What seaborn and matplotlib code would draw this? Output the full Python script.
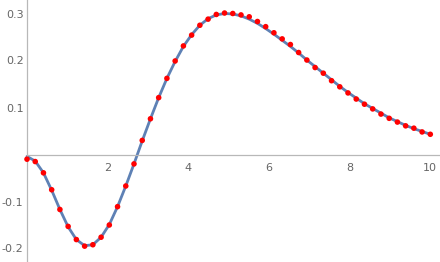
import numpy as np
import pandas as pd
import matplotlib
matplotlib.use("Agg")
import matplotlib.pyplot as plt
import seaborn as sns
from matplotlib.ticker import MultipleLocator, FixedLocator

# sample positions (50 samples across 0..10)
x_vals = [0.000, 0.204, 0.408, 0.612, 0.816, 1.020, 1.224, 1.429, 1.633, 1.837,
          2.041, 2.245, 2.449, 2.653, 2.857, 3.061, 3.265, 3.469, 3.673, 3.878,
          4.082, 4.286, 4.490, 4.694, 4.898, 5.102, 5.306, 5.510, 5.714, 5.918,
          6.122, 6.327, 6.531, 6.735, 6.939, 7.143, 7.347, 7.551, 7.755, 7.959,
          8.163, 8.367, 8.571, 8.776, 8.980, 9.184, 9.388, 9.592, 9.796, 10.000]

# red sample points
point_vals = [-0.010, -0.015, -0.039, -0.075, -0.117, -0.153, -0.181, -0.195, -0.192, -0.176,
              -0.150, -0.111, -0.067, -0.020, 0.030, 0.076, 0.121, 0.162, 0.199, 0.231,
              0.254, 0.275, 0.288, 0.298, 0.301, 0.300, 0.297, 0.293, 0.283, 0.272,
              0.259, 0.246, 0.234, 0.217, 0.201, 0.185, 0.173, 0.157, 0.144, 0.131,
              0.118, 0.107, 0.097, 0.086, 0.077, 0.069, 0.061, 0.056, 0.048, 0.043]

# blue fitted curve
curve_vals = [-0.004, -0.014, -0.039, -0.076, -0.117, -0.154, -0.181, -0.194, -0.192, -0.176,
              -0.149, -0.111, -0.067, -0.020, 0.029, 0.076, 0.121, 0.162, 0.198, 0.230,
              0.255, 0.275, 0.289, 0.297, 0.300, 0.299, 0.295, 0.288, 0.279, 0.268,
              0.256, 0.243, 0.230, 0.216, 0.201, 0.187, 0.173, 0.159, 0.145, 0.132,
              0.120, 0.108, 0.098, 0.088, 0.078, 0.070, 0.062, 0.055, 0.049, 0.043]

x_major = [2, 4, 6, 8, 10]
y_major = [-0.2, -0.1, 0.1, 0.2, 0.3]

df_pts = pd.DataFrame({"x": x_vals, "y": point_vals})
df_fit = pd.DataFrame({"x": x_vals, "y": curve_vals})

sns.set_style("white")
plt.rcParams['font.family'] = ['DejaVu Sans']

fig = plt.figure(figsize=(4.4, 2.62), dpi=100)
ax = fig.add_axes([27 / 440, 0, 413 / 440, 1])

sns.lineplot(data=df_fit, x="x", y="y", ax=ax, color="#5E81B5", linewidth=2.0,
             clip_on=False, zorder=2)
sns.scatterplot(data=df_pts, x="x", y="y", ax=ax, color="#FF0000", s=16,
                edgecolor="none", linewidth=0, clip_on=False, zorder=3)

ax.set_xlim(0, 10.24)
ax.set_ylim(-(262 - 154.5) / 470, 154.5 / 470)

for s in ["top", "right"]:
    ax.spines[s].set_visible(False)
ax.spines["bottom"].set_position(("data", 0))
ax.spines["left"].set_position(("data", 0))
for s in ["bottom", "left"]:
    ax.spines[s].set_color("#b8b8b8")
    ax.spines[s].set_linewidth(0.9)

ax.xaxis.set_major_locator(FixedLocator(x_major))
ax.xaxis.set_minor_locator(MultipleLocator(0.5))
ax.yaxis.set_major_locator(FixedLocator(y_major))
ax.yaxis.set_minor_locator(MultipleLocator(0.02))
ax.set_xticklabels([str(v) for v in x_major])
ax.set_yticklabels([f"{v:.1f}" for v in y_major])

ax.tick_params(axis="both", which="both", direction="in", color="#b8b8b8",
               labelcolor="#666666", labelsize=8)
ax.tick_params(axis="x", which="major", length=4, width=0.8, pad=6)
ax.tick_params(axis="x", which="minor", length=2.5, width=0.6)
ax.tick_params(axis="y", which="major", length=4, width=0.8, pad=2.5)
ax.tick_params(axis="y", which="minor", length=2.5, width=0.6)
ax.set_xlabel("")
ax.set_ylabel("")
ax.patch.set_alpha(0)

fig.savefig("out.png", dpi=100)
